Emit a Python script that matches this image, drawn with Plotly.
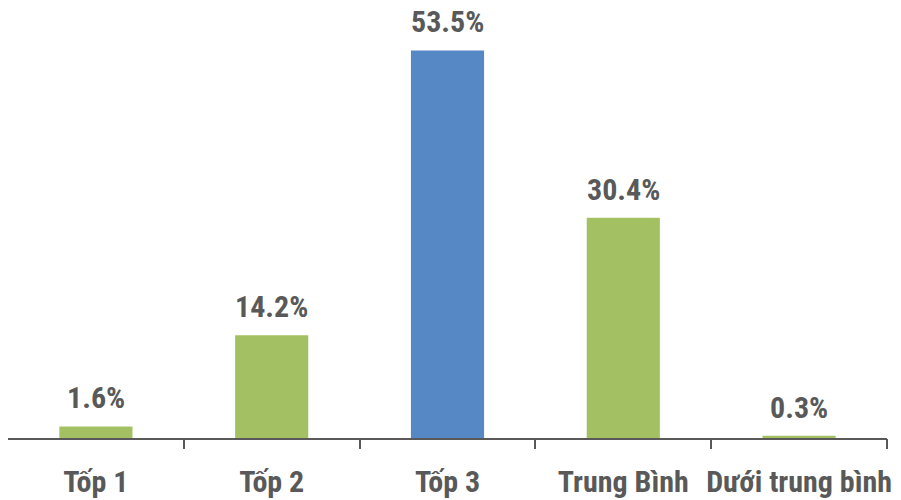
import plotly.graph_objects as go

categories = ["Tốp 1", "Tốp 2", "Tốp 3", "Trung Bình", "Dưới trung bình"]
values = [1.6, 14.2, 53.5, 30.4, 0.3]
colors = ["#A3C163", "#A3C163", "#5588C4", "#A3C163", "#A3C163"]
boundaries = [0.5, 1.5, 2.5, 3.5, 4.5]

FONT = "Liberation Sans Narrow, Arial Narrow, Roboto Condensed, sans-serif"
GREY = "#595959"

fig = go.Figure(go.Bar(x=categories, y=values, marker_color=colors, marker_line_width=0))
# invisible helper trace to activate tick axis
fig.add_trace(go.Scatter(x=[None], y=[None], xaxis="x2", showlegend=False, hoverinfo="skip"))

for c, v in zip(categories, values):
    fig.add_annotation(x=c, y=v, text=f"{v:.1f}%", showarrow=False, yanchor="bottom",
                       yshift=9, font=dict(family=FONT, size=30, color=GREY, weight="bold"))

fig.update_layout(
    width=901, height=500,
    margin=dict(l=8, r=14, t=0, b=62, autoexpand=False),
    plot_bgcolor="white", paper_bgcolor="white",
    bargap=0.584,
    showlegend=False,
    xaxis=dict(showline=True, linecolor=GREY, linewidth=2, ticks="", showgrid=False,
               tickangle=0, automargin=False, range=[-0.5, 4.5],
               tickfont=dict(family=FONT, size=30, color=GREY, weight="bold"),
               ticklabelstandoff=16),
    xaxis2=dict(overlaying="x", side="bottom", range=[-0.5, 4.5], tickvals=boundaries,
                showticklabels=False, ticks="outside", ticklen=10, tickwidth=2,
                tickcolor=GREY, showline=False, showgrid=False, zeroline=False,
                automargin=False),
    yaxis=dict(visible=False, range=[0, 60.47], showgrid=False, zeroline=False,
               automargin=False),
)

fig.write_html("out.html")
